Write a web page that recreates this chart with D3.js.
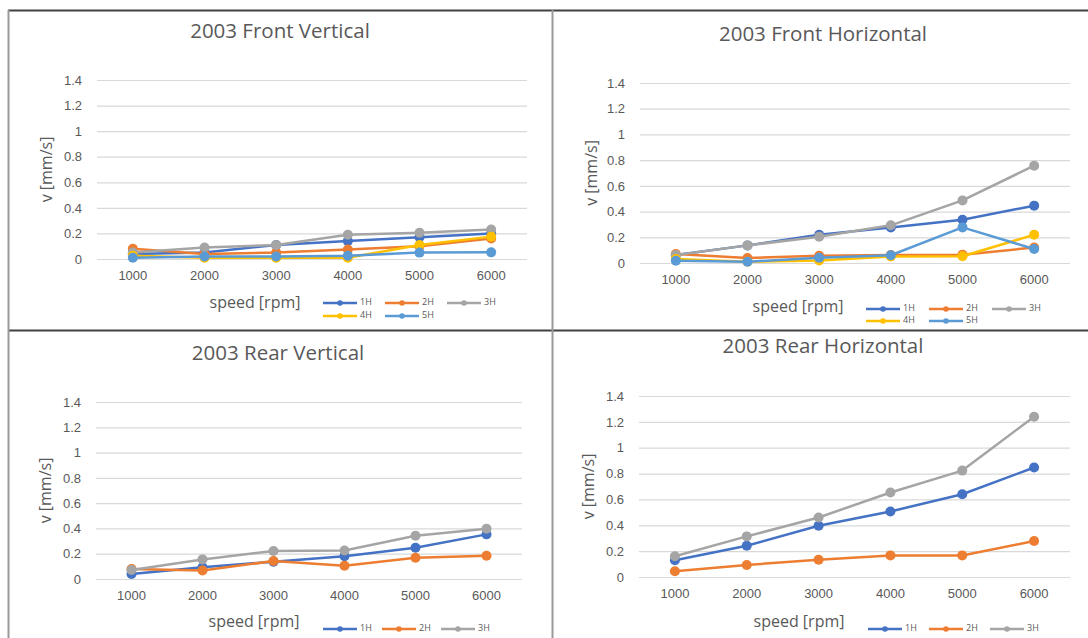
<!DOCTYPE html>
<html>
<head>
<meta charset="utf-8">
<script src="https://cdn.jsdelivr.net/npm/d3@7"></script>
<style>
  body { margin: 0; background: #fff; }
  svg { display: block; font-family: "Open Sans", "Noto Sans", sans-serif; }
</style>
</head>
<body>
<svg id="chart" width="1088" height="638"></svg>
<script>
const speeds = [1000, 2000, 3000, 4000, 5000, 6000];
const yTicks = [0, 0.2, 0.4, 0.6, 0.8, 1, 1.2, 1.4];
const seriesNames = ["1H", "2H", "3H", "4H", "5H"];
const seriesColors = ["#4472C4", "#ED7D31", "#A5A5A5", "#FFC000", "#5B9BD5"];

// values per series, one row per harmonic
const frontVertical = [
  [0.04, 0.05, 0.11, 0.14, 0.17, 0.20],
  [0.08, 0.04, 0.05, 0.075, 0.10, 0.16],
  [0.05, 0.09, 0.11, 0.19, 0.205, 0.23],
  [0.025, 0.01, 0.01, 0.01, 0.11, 0.175],
  [0.01, 0.02, 0.02, 0.026, 0.05, 0.052]
];
const frontHorizontal = [
  [0.062, 0.137, 0.22, 0.277, 0.337, 0.446],
  [0.07, 0.039, 0.057, 0.062, 0.065, 0.12],
  [0.062, 0.137, 0.205, 0.293, 0.487, 0.757],
  [0.031, 0.01, 0.02, 0.05, 0.052, 0.22],
  [0.018, 0.01, 0.041, 0.06, 0.277, 0.109]
];
const rearVertical = [
  [0.04, 0.092, 0.137, 0.18, 0.247, 0.353],
  [0.079, 0.068, 0.142, 0.105, 0.168, 0.184],
  [0.071, 0.155, 0.221, 0.226, 0.342, 0.397]
];
const rearHorizontal = [
  [0.129, 0.242, 0.396, 0.507, 0.64, 0.847],
  [0.044, 0.093, 0.134, 0.167, 0.167, 0.278],
  [0.16, 0.314, 0.46, 0.654, 0.823, 1.24]
];

const panels = [
  { title: "2003 Front Vertical", data: frontVertical,
    x0: 97, x1: 527, yTop: 80, yBot: 259, titleX: 280, titleY: 33,
    yTitleX: 48, xTitleX: 255, xTitleY: 304, legX: 323, legY: 303, legRow: 13, legStep: 62 },
  { title: "2003 Front Horizontal", data: frontHorizontal,
    x0: 640, x1: 1070, yTop: 83, yBot: 263, titleX: 823, titleY: 36,
    yTitleX: 593, xTitleX: 798, xTitleY: 308, legX: 866, legY: 309, legRow: 12, legStep: 63 },
  { title: "2003 Rear Vertical", data: rearVertical,
    x0: 96, x1: 522, yTop: 402, yBot: 579, titleX: 278, titleY: 355,
    yTitleX: 47, xTitleX: 254, xTitleY: 623, legX: 323, legY: 629, legRow: 12, legStep: 59 },
  { title: "2003 Rear Horizontal", data: rearHorizontal,
    x0: 639, x1: 1070, yTop: 396, yBot: 577, titleX: 823, titleY: 348,
    yTitleX: 590, xTitleX: 799, xTitleY: 623, legX: 868, legY: 629, legRow: 12, legStep: 61 }
];

const svg = d3.select("#chart");
const textColor = "#595959";

panels.forEach((p) => {
  const g = svg.append("g");

  const x = d3.scaleBand().domain(speeds).range([p.x0, p.x1]);
  const y = d3.scaleLinear().domain([0, 1.4]).range([p.yBot, p.yTop]);

  // gridlines
  const yAxis = g.append("g")
    .attr("transform", `translate(${p.x0},0)`)
    .call(d3.axisLeft(y).tickValues(yTicks).tickSize(-(p.x1 - p.x0)).tickPadding(15)
      .tickFormat(d3.format("~g")));
  yAxis.select(".domain").remove();
  yAxis.selectAll(".tick line").attr("stroke", "#D9D9D9").attr("stroke-width", 1.2);
  yAxis.selectAll(".tick text").attr("fill", textColor).style("font-size", "13px");

  const xAxis = g.append("g")
    .attr("transform", `translate(0,${p.yBot})`)
    .call(d3.axisBottom(x).tickSize(0).tickPadding(12));
  xAxis.select(".domain").remove();
  xAxis.selectAll(".tick text").attr("fill", textColor).style("font-size", "13px");

  g.append("text")
    .attr("x", p.titleX).attr("y", p.titleY)
    .attr("text-anchor", "middle").attr("dominant-baseline", "middle")
    .attr("fill", textColor).style("font-size", "20.5px")
    .text(p.title);

  g.append("text")
    .attr("transform", `translate(${p.yTitleX},${(p.yTop + p.yBot) / 2}) rotate(-90)`)
    .attr("text-anchor", "middle").attr("dominant-baseline", "middle")
    .attr("fill", textColor).style("font-size", "16px")
    .text("v [mm/s]");

  g.append("text")
    .attr("x", p.xTitleX).attr("y", p.xTitleY)
    .attr("text-anchor", "middle").attr("dominant-baseline", "middle")
    .attr("fill", textColor).style("font-size", "16px")
    .text("speed [rpm]");

  const line = d3.line()
    .x((d, i) => x(speeds[i]) + x.bandwidth() / 2)
    .y((d) => y(d));

  p.data.forEach((vals, s) => {
    const sg = g.append("g");
    sg.append("path")
      .attr("d", line(vals))
      .attr("fill", "none")
      .attr("stroke", seriesColors[s])
      .attr("stroke-width", 2.5)
      .attr("stroke-linejoin", "round");
    sg.selectAll("circle")
      .data(vals)
      .join("circle")
      .attr("cx", (d, i) => x(speeds[i]) + x.bandwidth() / 2)
      .attr("cy", (d) => y(d))
      .attr("r", 5)
      .attr("fill", seriesColors[s]);
  });

  // legend
  p.data.forEach((vals, s) => {
    const col = s % 3, row = Math.floor(s / 3);
    const lx = p.legX + col * p.legStep;
    const ly = p.legY + row * p.legRow;
    const lg = g.append("g");
    lg.append("line")
      .attr("x1", lx).attr("x2", lx + 34).attr("y1", ly).attr("y2", ly)
      .attr("stroke", seriesColors[s]).attr("stroke-width", 2.5);
    lg.append("circle")
      .attr("cx", lx + 17).attr("cy", ly).attr("r", 2.8)
      .attr("fill", seriesColors[s]);
    lg.append("text")
      .attr("x", lx + 37).attr("y", ly)
      .attr("dominant-baseline", "middle")
      .attr("fill", textColor).style("font-size", "9px")
      .text(seriesNames[s]);
  });
});

// panel frame
svg.append("line").attr("x1", 8).attr("x2", 1088).attr("y1", 10.5).attr("y2", 10.5)
  .attr("stroke", "#404040").attr("stroke-width", 2);
svg.append("line").attr("x1", 8).attr("x2", 1088).attr("y1", 330.5).attr("y2", 330.5)
  .attr("stroke", "#404040").attr("stroke-width", 2);
svg.append("line").attr("x1", 8.5).attr("x2", 8.5).attr("y1", 10).attr("y2", 638)
  .attr("stroke", "#999").attr("stroke-width", 2);
svg.append("line").attr("x1", 552.5).attr("x2", 552.5).attr("y1", 10).attr("y2", 638)
  .attr("stroke", "#999").attr("stroke-width", 2);
</script>
</body>
</html>
